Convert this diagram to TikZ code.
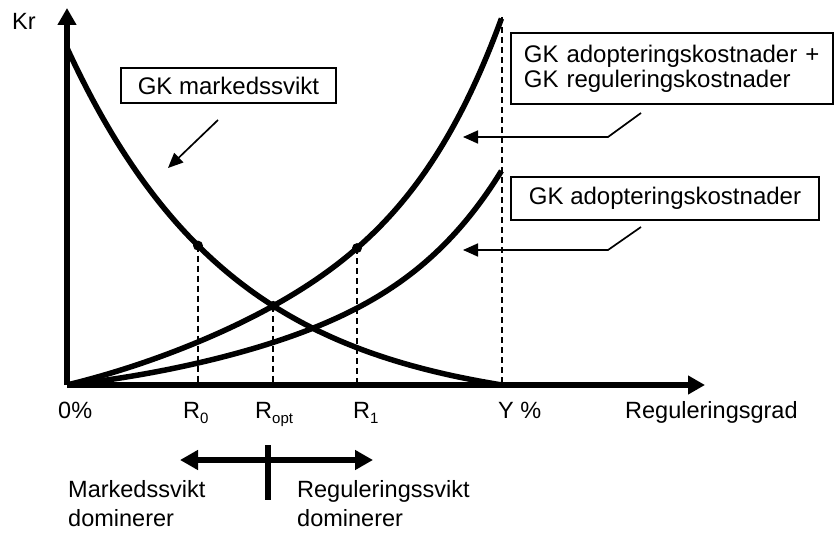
\documentclass[tikz,border=0pt]{standalone}
\usepackage{fontspec}
\setmainfont{Liberation Sans}
\usetikzlibrary{arrows.meta,intersections}
\newcommand\lowsub[1]{\raisebox{-5pt}{\fontsize{15}{15}\selectfont #1}}
\begin{document}
\begin{tikzpicture}[x=1pt,y=1pt,
  declare function={
    fd(\u)=337*(exp(-2.6*\u)-exp(-2.6))/(1-exp(-2.6));
    fu(\u)=106.1*\u+121.1*\u^2+140.8*\u^6;
    fl(\u)=46.7*\u+86.9*\u^2+81.4*\u^6;
  },
  txt/.style={font=\fontsize{24}{24}\selectfont},
  lbl/.style={font=\fontsize{23.5}{24}\selectfont,inner sep=0pt,anchor=base west},
  axis/.style={line width=5.5pt,-{Triangle[length=17pt,width=18pt]}},
  curve/.style={line width=5.5pt},
  dashline/.style={line width=1.8pt,dash pattern=on 6pt off 4pt},
  box/.style={draw,line width=1.7pt,txt,inner sep=0pt},
  leader/.style={line width=1.7pt,-{Triangle[length=15pt,width=13pt]}},
  dot/.style={circle,fill,inner sep=0pt,minimum size=10pt},
]
\useasboundingbox (-67,-150) rectangle (767,385);

% axes
\coordinate (O) at (0,0);
\coordinate (ytip) at (0,377);
\coordinate (xtip) at (638,0);
\draw[axis] (O) -- (ytip);
\draw[axis] (O) -- (xtip);

% cost curves
\draw[curve,name path=mf] plot[domain=0:1,samples=120] ({435*\x},{fd(\x)});
\draw[curve,name path=up] plot[domain=0:1,samples=120] ({435*\x},{fu(\x)});
\draw[curve,name path=lo] plot[domain=0:1,samples=120] ({435*\x},{fl(\x)});
\path[name intersections={of=mf and up,by={iopt}}];

% marked points and guide lines
\coordinate (p0) at (131,{fd(131/435)});
\coordinate (p1) at (290,{fu(290/435)});
\coordinate (py) at (435,{fu(1)});
\coordinate (Y0) at (435,0);
\draw[dashline] (p0) -- (p0 |- O);
\draw[dashline] (iopt) -- (iopt |- O);
\draw[dashline] (p1) -- (p1 |- O);
\draw[dashline] (py) -- (Y0);
\node[dot] (d0) at (p0) {};
\node[dot] (dopt) at (iopt) {};
\node[dot] (d1) at (p1) {};

% axis labels
\node[lbl] (kr) at (-55,355) {Kr};
\node[lbl] (l0) at (-9,-33) {0\%};
\node[lbl] (lr0) at (116,-33) {R\lowsub{0}};
\node[lbl] (lropt) at (188,-33) {R\lowsub{opt}};
\node[lbl] (lr1) at (286,-33) {R\lowsub{1}};
\node[lbl] (ly) at (431,-33) {Y \%};
\node[lbl] (lgrad) at (558,-33) {Reguleringsgrad};

% curve legends
\node[box,minimum width=215pt,minimum height=35pt] (bmf) at (161.5,299.5) {GK markedssvikt};
\node[box,minimum width=322pt,minimum height=71pt,anchor=north west,
      align=left,text width=296pt,font=\fontsize{24}{25}\selectfont] (bsum) at (443,353)
      {GK adopteringskostnader +\\GK reguleringskostnader};
\node[box,minimum width=308pt,minimum height=43pt] (badop) at (598,186.5) {GK adopteringskostnader};

\coordinate (a1s) at (151,265);
\coordinate (a1t) at (101,217);
\draw[leader] (a1s) -- (a1t);
\coordinate (a2s) at (574,272);
\coordinate (a2c) at (541,248);
\coordinate (a2t) at (396,248);
\draw[leader] (a2s) -- (a2c) -- (a2t);
\coordinate (a3s) at (574,158);
\coordinate (a3c) at (541,135);
\coordinate (a3t) at (396,135);
\draw[leader] (a3s) -- (a3c) -- (a3t);

% dominance indicator
\coordinate (dl) at (113,-75);
\coordinate (dr) at (306,-75);
\coordinate (tt) at (201,-60);
\coordinate (tb) at (201,-115);
\draw[line width=5.5pt,{Triangle[length=18pt,width=19pt]}-{Triangle[length=18pt,width=19pt]}] (dl) -- (dr);
\draw[line width=5.5pt] (tt) -- (tb);
\node[lbl] (m1) at (1,-112) {Markedssvikt};
\node[lbl] (m2) at (1,-141) {dominerer};
\node[lbl] (r1) at (230,-112) {Reguleringssvikt};
\node[lbl] (r2) at (230,-141) {dominerer};
\end{tikzpicture}
\end{document}
